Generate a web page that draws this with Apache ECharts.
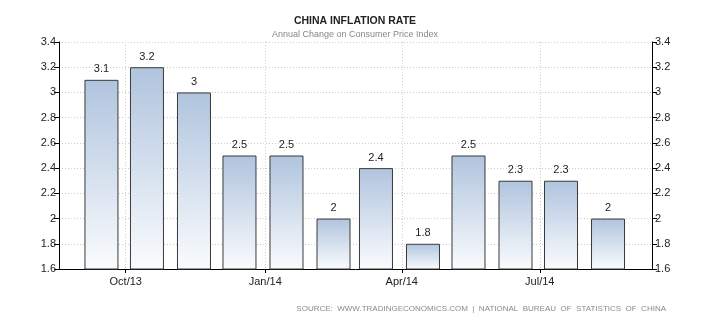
<!DOCTYPE html>
<html>
<head>
<meta charset="utf-8">
<script src="https://cdn.jsdelivr.net/npm/echarts@6/dist/echarts.min.js"></script>
<style>
html,body{margin:0;padding:0;background:#fff;}
#c{width:710px;height:325px;}
</style>
</head>
<body>
<div id="c"></div>
<script>
const months = ['2013-09-15','2013-10-15','2013-11-15','2013-12-15','2014-01-15','2014-02-15','2014-03-15','2014-04-15','2014-05-15','2014-06-15','2014-07-15','2014-08-15'];
const values = [3.1, 3.2, 3.0, 2.5, 2.5, 2.0, 2.4, 1.8, 2.5, 2.3, 2.3, 2.0];
const monthNames = ['Jan','Feb','Mar','Apr','May','Jun','Jul','Aug','Sep','Oct','Nov','Dec'];
const yTicks = {min: 1.6, max: 3.4, step: 0.2};
const xRange = {min: [2013, 7, 18], max: [2014, 8, 13]};
const titleText = 'CHINA INFLATION RATE';
const subtitleText = 'Annual Change on Consumer Price Index';
const sourceText = 'SOURCE:  WWW.TRADINGECONOMICS.COM  |  NATIONAL  BUREAU  OF  STATISTICS  OF  CHINA';

const font = '"Liberation Sans", Arial, sans-serif';
const gridL = 59, gridR = 58, barW = 34, chartW = 710;
const chart = echarts.init(document.getElementById('c'), null, {renderer: 'canvas'});
const quarter = 91 * 24 * 3600 * 1000;

// ECharts widens a time axis that carries bars by the bar overflow; pre-compensate
const minT = new Date(xRange.min[0], xRange.min[1], xRange.min[2]).getTime();
const maxT = new Date(xRange.max[0], xRange.max[1], xRange.max[2]).getTime();
const axisLen = chartW - gridL - gridR;
const pad = (maxT - minT) * (barW / 2) / axisLen;

function yAxisCfg(pos) {
  return {
    type: 'value', position: pos,
    min: yTicks.min, max: yTicks.max, interval: yTicks.step,
    axisLine: {show: true, lineStyle: {color: '#000', width: 1}},
    axisTick: {show: true, length: 5, lineStyle: {color: '#000'}},
    axisLabel: {color: '#222', fontSize: 11, fontFamily: font, margin: 3},
    splitLine: {show: pos === 'left', lineStyle: {color: '#cccccc', type: [1, 2]}}
  };
}

chart.setOption({
  animation: false,
  backgroundColor: '#fff',
  title: {
    text: titleText, subtext: subtitleText, left: 'center', top: 11, itemGap: 3,
    textStyle: {fontSize: 10.5, fontWeight: 'bold', color: '#222', fontFamily: font},
    subtextStyle: {fontSize: 9, color: '#888', fontFamily: font}
  },
  grid: {left: gridL, right: gridR, top: 42, bottom: 56, containLabel: false},
  xAxis: {
    type: 'time', min: minT + pad, max: maxT - pad,
    minInterval: quarter, maxInterval: quarter,
    axisLine: {show: true, lineStyle: {color: '#000', width: 1}},
    axisTick: {show: true, length: 4, lineStyle: {color: '#000'}},
    axisLabel: {
      color: '#222', fontSize: 11, fontFamily: font, margin: 7,
      formatter: function (v) {
        const d = new Date(v);
        return monthNames[d.getMonth()] + '/' + String(d.getFullYear()).slice(2);
      }
    },
    splitLine: {show: true, lineStyle: {color: '#cccccc', type: [1, 2]}}
  },
  yAxis: [yAxisCfg('left'), yAxisCfg('right')],
  series: [{
    type: 'bar',
    data: months.map((m, i) => [m, values[i]]),
    barWidth: barW,
    itemStyle: {
      borderColor: '#3a3a3a', borderWidth: 1,
      color: new echarts.graphic.LinearGradient(0, 0, 0, 1, [
        {offset: 0, color: '#b0c4de'},
        {offset: 1, color: '#fafcfe'}
      ])
    },
    label: {show: true, position: 'top', distance: 5, color: '#222', fontSize: 11, fontFamily: font}
  }],
  graphic: [{
    type: 'text', right: 44, top: 305,
    style: {text: sourceText, fill: '#8a8a8a', fontSize: 8, fontFamily: font}
  }]
});
</script>
</body>
</html>
